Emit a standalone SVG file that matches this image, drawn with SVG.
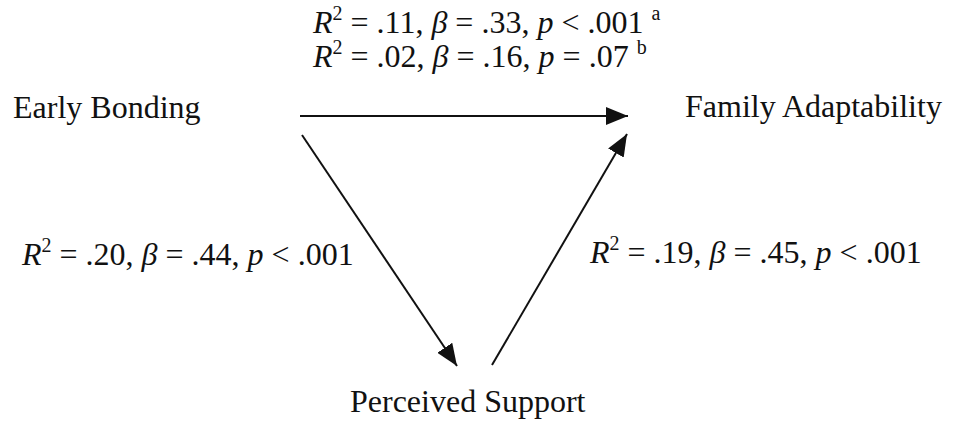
<svg xmlns="http://www.w3.org/2000/svg" width="953" height="422" viewBox="0 0 953 422">
<style>
text{font-family:"Liberation Serif","Times New Roman",serif;font-size:32px;fill:#111}
.i{font-style:italic}
.sup{font-size:20px}
.edge{stroke:#111;stroke-width:2;fill:none}
</style>
<defs>
<marker id="ah" viewBox="0 0 22 18" refX="22" refY="9" markerWidth="22" markerHeight="18" markerUnits="userSpaceOnUse" orient="auto">
<path d="M0,0 L22,9 L0,18 Z" fill="#111"/>
</marker>
</defs>
<rect width="953" height="422" fill="#fff"/>
<g id="connectors">
<line class="edge" x1="300" y1="116" x2="628" y2="116" marker-end="url(#ah)"/>
<line class="edge" x1="302" y1="135" x2="457" y2="366" marker-end="url(#ah)"/>
<line class="edge" x1="492" y1="365" x2="627" y2="134" marker-end="url(#ah)"/>
</g>
<g id="node-early-bonding"><text x="13" y="118">Early Bonding</text></g>
<g id="node-family-adaptability"><text x="685" y="117">Family Adaptability</text></g>
<g id="node-perceived-support"><text x="350" y="412">Perceived Support</text></g>
<g id="label-direct">
<text x="313" y="33"><tspan class="i">R</tspan><tspan class="sup" dy="-13">2</tspan><tspan dy="13"> = .11, </tspan><tspan class="i">β</tspan><tspan> = .33, </tspan><tspan class="i">p</tspan><tspan> &lt; .001 </tspan><tspan class="sup" dy="-13">a</tspan></text>
<text x="313" y="67"><tspan class="i">R</tspan><tspan class="sup" dy="-13">2</tspan><tspan dy="13"> = .02, </tspan><tspan class="i">β</tspan><tspan> = .16, </tspan><tspan class="i">p</tspan><tspan> = .07 </tspan><tspan class="sup" dy="-13">b</tspan></text>
</g>
<g id="label-left">
<text x="22" y="265"><tspan class="i">R</tspan><tspan class="sup" dy="-13">2</tspan><tspan dy="13"> = .20, </tspan><tspan class="i">β</tspan><tspan> = .44, </tspan><tspan class="i">p</tspan><tspan> &lt; .001</tspan></text>
</g>
<g id="label-right">
<text x="590" y="263"><tspan class="i">R</tspan><tspan class="sup" dy="-13">2</tspan><tspan dy="13"> = .19, </tspan><tspan class="i">β</tspan><tspan> = .45, </tspan><tspan class="i">p</tspan><tspan> &lt; .001</tspan></text>
</g>
</svg>
